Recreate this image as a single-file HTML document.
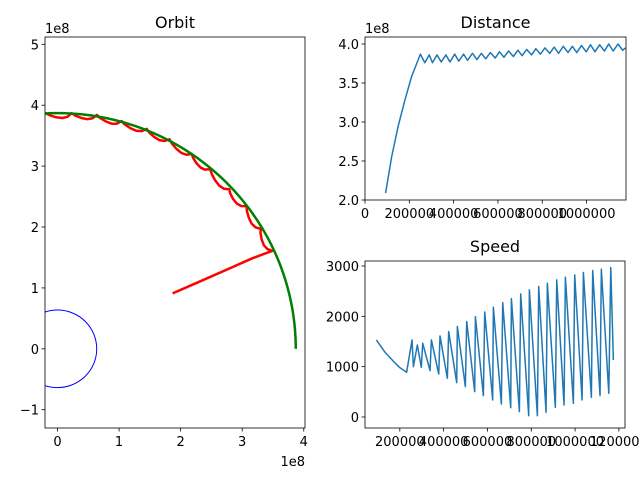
<!DOCTYPE html>
<html><head><meta charset="utf-8"><style>
body{margin:0;background:#fff}
svg{display:block;font-family:"DejaVu Sans","Liberation Sans",sans-serif}
</style></head><body>
<svg id="fig" width="640" height="480" xmlns="http://www.w3.org/2000/svg">
<rect width="640" height="480" fill="#fff"/>
</svg>
<script>
// ---- data ----
const orbitCuspX = [3.49,3.30,3.07,2.79,2.48,2.18,1.82,1.45,1.04,0.64,0.23,-0.19];
const orbitCuspY = [1.61,1.97,2.34,2.62,2.95,3.20,3.44,3.61,3.74,3.84,3.87,3.87];
const launchX = [1.87,2.30,2.75,3.15,3.49];
const launchY = [0.91,1.10,1.30,1.48,1.61];
const moonRadius = 3.87;
const moonArcDeg = 93;
const earthRadius = 0.637;
const orbitXTicks = [0,1,2,3,4];
const orbitYTicks = [-1,0,1,2,3,4,5];

const distStartT = [93000,120000,150000,180000,210000,250000];
const distStartV = [2.09,2.55,2.95,3.28,3.58,3.87];
const distTroughT = [270000,304500,344000,383500,423000,462700,505300,545000,587500,627000,669700,709300,751800,791400,834000,873600,916300,955800,998400,1038000,1080600,1120000,1163000];
const distTroughV = [3.76,3.76,3.77,3.77,3.78,3.79,3.80,3.81,3.82,3.83,3.84,3.85,3.86,3.87,3.88,3.88,3.89,3.89,3.90,3.90,3.91,3.91,3.92];
const distPeakT = [290000,325000,365000,405000,445000,485000,525000,566000,607000,648000,690000,730000,771000,812000,854000,895000,936000,977000,1018000,1059000,1100000,1142000];
const distPeakV = [3.86,3.86,3.86,3.87,3.87,3.88,3.88,3.89,3.90,3.91,3.92,3.93,3.94,3.95,3.96,3.97,3.97,3.98,3.99,3.99,4.00,4.00];
const distEndT = 1175000, distEndV = 3.95;
const distXTicks = [0,200000,400000,600000,800000,1000000];
const distYTicks = [2.0,2.5,3.0,3.5,4.0];

const speedStartT = [93000,130000,170000,200000,231000];
const speedStartV = [1530,1300,1110,980,888];
const speedPeakT = [255700,280000,304500,344000,383500,423000,462700,505300,545000,587500,627000,669700,709300,751800,791400,834000,873600,916300,955800,998400,1038000,1080600,1120000,1163000];
const speedPeakV = [1531,1431,1465,1531,1610,1697,1797,1896,1995,2087,2180,2273,2353,2445,2525,2592,2657,2724,2777,2823,2870,2910,2936,2969];
const speedTroughT = [262000,298000,338000,377500,417000,459600,499200,541800,581400,623900,663500,706200,745800,788400,828000,867500,910000,949700,992300,1032000,1074500,1114000,1154000];
const speedTroughV = [1000,988,921,855,769,682,603,503,424,338,258,185,106,26,26,93,192,239,272,338,391,424,471];
const speedEndT = 1175000, speedEndV = 1133;
const speedXTicks = [200000,400000,600000,800000,1000000,1200000];
const speedYTicks = [0,1000,2000,3000];

// ---- helpers ----
const NS = "http://www.w3.org/2000/svg";
const svg = document.getElementById('fig');
function el(tag, attrs, parent){const e=document.createElementNS(NS,tag);for(const k in attrs)e.setAttribute(k,attrs[k]);(parent||svg).appendChild(e);return e;}
function txt(s,x,y,anchor,size,name){const t=el('text',{x:x,y:y,'text-anchor':anchor,'font-size':size,fill:'#000'});t.textContent=s;


return t;}
function lin(d0,d1,p0,p1){return v=>p0+(v-d0)/(d1-d0)*(p1-p0);}

function axes(name,L,T,R,B,sx,sy,xt,yt,xfmt,yfmt){
  const g=el('g',{});
  
  
  xt.forEach(v=>{const x=sx(v);el('line',{x1:x,x2:x,y1:B,y2:B+3.5,stroke:'#000','stroke-width':0.8},g);
    txt(xfmt(v),x,B+18,'middle',13,name+'-x-tick-label');});
  yt.forEach(v=>{const y=sy(v);el('line',{x1:L-3.5,x2:L,y1:y,y2:y,stroke:'#000','stroke-width':0.8},g);
    txt(yfmt(v),L-6,y+5,'end',13,name+'-y-tick-label');});
  return g;
}
function frame(name,L,T,R,B){const r=el('rect',{x:L,y:T,width:R-L,height:B-T,fill:'none',stroke:'#000','stroke-width':0.8});

}
function clip(id,L,T,R,B){const d=el('defs',{});const c=el('clipPath',{id:id},d);el('rect',{x:L,y:T,width:R-L,height:B-T},c);}
function path(pts,color,w,clipId,name){const d=pts.map((p,i)=>(i?'L':'M')+p[0].toFixed(2)+','+p[1].toFixed(2)).join('');
const p=el('path',{d:d,fill:'none',stroke:color,'stroke-width':w,'stroke-linejoin':'round','clip-path':'url(#'+clipId+')'});

}

// ---- Orbit ----
(function(){
  const L=45,T=37,R=305,B=428;
  const sx=lin(-0.203,4.02,L,R), sy=lin(-1.3,5.12,B,T);
  clip('c1',L,T,R,B);
  const c=el('ellipse',{cx:sx(0),cy:sy(0),rx:sx(earthRadius)-sx(0),ry:sy(0)-sy(earthRadius),fill:'none',stroke:'#0000ff','stroke-width':1,'clip-path':'url(#c1)'});
  
  
  const pts=[];
  launchX.forEach((x,i)=>pts.push([sx(x),sy(launchY[i])]));
  for(let i=0;i<orbitCuspX.length-1;i++){
    const a0=Math.atan2(orbitCuspY[i],orbitCuspX[i]),a1=Math.atan2(orbitCuspY[i+1],orbitCuspX[i+1]);
    const r0=Math.hypot(orbitCuspX[i],orbitCuspY[i]),r1=Math.hypot(orbitCuspX[i+1],orbitCuspY[i+1]);
    [0.15,0.35,0.6,0.85].forEach((f,k)=>{const a=a0+(a1-a0)*f;const r=(r0+(r1-r0)*f)*[0.984,0.978,0.981,0.99][k];
      pts.push([sx(r*Math.cos(a)),sy(r*Math.sin(a))]);});
    pts.push([sx(orbitCuspX[i+1]),sy(orbitCuspY[i+1])]);
  }
  path(pts,'#ff0000',2.5,'c1','rocket-trajectory');
  const g=[];for(let a=0;a<=moonArcDeg;a+=1){const r=a*Math.PI/180;g.push([sx(moonRadius*Math.cos(r)),sy(moonRadius*Math.sin(r))]);}
  path(g,'#008000',2.5,'c1','moon-orbit');
  axes('orbit-axes',L,T,R,B,sx,sy,orbitXTicks,orbitYTicks,v=>String(v),v=>v<0?'\u2212'+(-v):String(v));
  frame('orbit-frame',L,T,R,B);
  txt('Orbit',(L+R)/2,T-9,'middle',16,'orbit-title');
  txt('1e8',L,T-4,'start',13,'orbit-y-offset');
  txt('1e8',R,B+38,'end',13,'orbit-x-offset');
})();

// ---- Distance ----
(function(){
  const L=365,T=37,R=626,B=200;
  const sx=lin(0,1178000,L,R), sy=lin(2.0,4.0,B,44);
  clip('c2',L,T,R,B);
  const pts=[];
  distStartT.forEach((t,i)=>pts.push([sx(t),sy(distStartV[i])]));
  for(let i=0;i<distTroughT.length;i++){pts.push([sx(distTroughT[i]),sy(distTroughV[i])]);
    if(i<distPeakT.length)pts.push([sx(distPeakT[i]),sy(distPeakV[i])]);}
  pts.push([sx(distEndT),sy(distEndV)]);
  path(pts,'#1f77b4',1.5,'c2','distance-line');
  axes('distance-axes',L,T,R,B,sx,sy,distXTicks,distYTicks,v=>String(v),v=>v.toFixed(1));
  frame('distance-frame',L,T,R,B);
  txt('Distance',(L+R)/2,T-9,'middle',16,'distance-title');
  txt('1e8',L,T-4,'start',13,'distance-y-offset');
})();

// ---- Speed ----
(function(){
  const L=365,T=261,R=625,B=428;
  const sx=lin(41000,1228000,L,R), sy=lin(0,3000,417,266);
  clip('c3',L,T,R,B);
  const pts=[];
  speedStartT.forEach((t,i)=>pts.push([sx(t),sy(speedStartV[i])]));
  for(let i=0;i<speedPeakT.length;i++){pts.push([sx(speedPeakT[i]),sy(speedPeakV[i])]);
    if(i<speedTroughT.length)pts.push([sx(speedTroughT[i]),sy(speedTroughV[i])]);}
  pts.push([sx(speedEndT),sy(speedEndV)]);
  path(pts,'#1f77b4',1.5,'c3','speed-line');
  axes('speed-axes',L,T,R,B,sx,sy,speedXTicks,speedYTicks,v=>String(v),v=>String(v));
  frame('speed-frame',L,T,R,B);
  txt('Speed',(L+R)/2,T-9,'middle',16,'speed-title');
})();
</script>
</body></html>
